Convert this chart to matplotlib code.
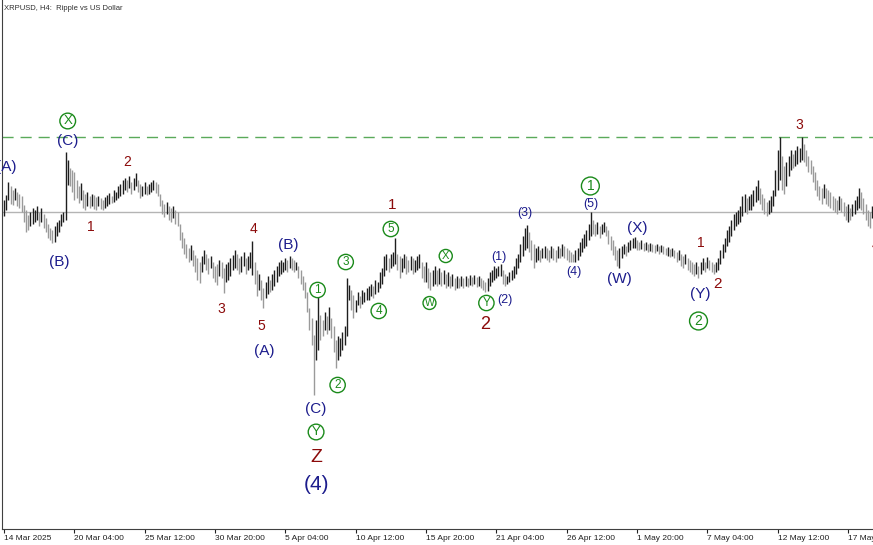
import numpy as np
import matplotlib
matplotlib.use("Agg")
import matplotlib.pyplot as plt

# XRPUSD H4 bars, prices in thousandths of a dollar
hi = [
    2400, 2420, 2472, 2456, 2440, 2448, 2432, 2424, 2416, 2380,
    2360, 2340, 2352, 2368, 2360, 2376, 2352, 2368, 2344, 2328,
    2304, 2288, 2280, 2296, 2312, 2320, 2344, 2352, 2592, 2560,
    2528, 2520, 2512, 2480, 2456, 2468, 2440, 2424, 2432, 2416,
    2424, 2420, 2412, 2416, 2408, 2400, 2412, 2420, 2428, 2416,
    2440, 2432, 2456, 2464, 2480, 2488, 2480, 2496, 2472, 2488,
    2508, 2480, 2464, 2456, 2472, 2456, 2464, 2472, 2480, 2472,
    2464, 2424, 2400, 2384, 2392, 2376, 2368, 2376, 2360, 2352,
    2304, 2272, 2248, 2224, 2208, 2220, 2200, 2180, 2168, 2152,
    2176, 2200, 2184, 2168, 2176, 2152, 2136, 2144, 2160, 2152,
    2128, 2144, 2152, 2168, 2180, 2200, 2184, 2168, 2176, 2192,
    2168, 2176, 2192, 2236, 2152, 2120, 2104, 2080, 2048, 2072,
    2096, 2080, 2104, 2120, 2136, 2152, 2160, 2152, 2168, 2160,
    2176, 2168, 2160, 2152, 2136, 2120, 2096, 2072, 2032, 1968,
    1928, 1860, 1920, 2012, 1940, 1920, 1952, 1936, 1972, 1928,
    1896, 1840, 1856, 1848, 1872, 1896, 2088, 2060, 2040, 2020,
    2000, 2032, 2016, 2040, 2032, 2048, 2056, 2064, 2056, 2080,
    2072, 2112, 2128, 2176, 2184, 2168, 2184, 2192, 2248, 2184,
    2176, 2168, 2184, 2176, 2160, 2176, 2168, 2160, 2176, 2184,
    2152, 2136, 2152, 2128, 2112, 2120, 2136, 2120, 2128, 2112,
    2120, 2104, 2112, 2096, 2104, 2088, 2096, 2088, 2096, 2088,
    2096, 2088, 2100, 2092, 2100, 2092, 2096, 2088, 2080, 2072,
    2088, 2112, 2120, 2136, 2128, 2136, 2144, 2120, 2104, 2096,
    2112, 2120, 2136, 2168, 2184, 2224, 2256, 2288, 2300, 2272,
    2240, 2224, 2208, 2216, 2200, 2208, 2216, 2208, 2200, 2216,
    2208, 2200, 2216, 2208, 2224, 2216, 2208, 2200, 2192, 2184,
    2200, 2208, 2232, 2248, 2264, 2280, 2304, 2352, 2320, 2304,
    2312, 2296, 2304, 2312, 2296, 2280, 2256, 2240, 2216, 2200,
    2208, 2216, 2224, 2216, 2232, 2240, 2248, 2252, 2240, 2232,
    2240, 2228, 2232, 2224, 2228, 2224, 2220, 2224, 2216, 2220,
    2216, 2208, 2212, 2204, 2208, 2200, 2192, 2200, 2184, 2176,
    2184, 2168, 2160, 2152, 2144, 2152, 2136, 2152, 2168, 2152,
    2172, 2160, 2152, 2144, 2152, 2168, 2200, 2224, 2248, 2280,
    2296, 2320, 2344, 2352, 2360, 2376, 2416, 2424, 2408, 2416,
    2424, 2440, 2456, 2480, 2448, 2424, 2408, 2392, 2400, 2416,
    2440, 2520, 2600, 2652, 2576, 2536, 2552, 2576, 2600, 2584,
    2600, 2616, 2608, 2652, 2624, 2600, 2576, 2560, 2536, 2512,
    2480, 2456, 2448, 2464, 2448, 2440, 2432, 2416, 2408, 2400,
    2416, 2408, 2392, 2376, 2384, 2368, 2384, 2400, 2416, 2448,
    2432, 2408, 2384, 2360, 2352, 2376, 2400,
]
lo = [
    2336, 2360, 2400, 2384, 2380, 2400, 2376, 2368, 2352, 2312,
    2272, 2280, 2296, 2304, 2312, 2320, 2296, 2312, 2288, 2272,
    2248, 2240, 2228, 2232, 2256, 2272, 2296, 2312, 2320, 2460,
    2456, 2432, 2400, 2408, 2388, 2400, 2368, 2360, 2376, 2368,
    2376, 2364, 2360, 2376, 2364, 2360, 2368, 2376, 2384, 2388,
    2392, 2400, 2408, 2416, 2424, 2440, 2432, 2448, 2424, 2440,
    2456, 2432, 2408, 2416, 2424, 2420, 2424, 2432, 2440, 2428,
    2416, 2376, 2344, 2332, 2344, 2320, 2312, 2328, 2304, 2296,
    2240, 2208, 2184, 2168, 2152, 2160, 2136, 2112, 2080, 2068,
    2112, 2144, 2120, 2104, 2128, 2088, 2072, 2060, 2096, 2088,
    2028, 2072, 2080, 2096, 2120, 2128, 2120, 2104, 2112, 2136,
    2104, 2120, 2128, 2100, 2064, 2016, 2040, 2000, 1968, 2008,
    2024, 2032, 2040, 2056, 2072, 2096, 2104, 2112, 2120, 2112,
    2128, 2120, 2112, 2120, 2088, 2064, 2040, 2008, 1952, 1880,
    1820, 1620, 1760, 1800, 1840, 1856, 1880, 1864, 1880, 1848,
    1792, 1728, 1760, 1776, 1800, 1820, 1856, 2000, 1960, 1928,
    1952, 1980, 1968, 1984, 1992, 2000, 2000, 2016, 2008, 2024,
    2032, 2048, 2064, 2096, 2120, 2112, 2128, 2136, 2144, 2120,
    2088, 2112, 2128, 2104, 2112, 2120, 2104, 2112, 2120, 2128,
    2088, 2072, 2072, 2048, 2040, 2056, 2064, 2056, 2064, 2056,
    2064, 2048, 2056, 2048, 2056, 2040, 2048, 2048, 2056, 2048,
    2056, 2052, 2060, 2056, 2064, 2052, 2056, 2048, 2040, 2032,
    2036, 2056, 2072, 2080, 2088, 2096, 2096, 2064, 2056, 2064,
    2072, 2080, 2088, 2104, 2128, 2152, 2176, 2200, 2208, 2192,
    2160, 2128, 2152, 2160, 2152, 2168, 2168, 2160, 2152, 2168,
    2160, 2152, 2168, 2168, 2176, 2168, 2160, 2152, 2152, 2152,
    2152, 2160, 2176, 2192, 2208, 2216, 2240, 2256, 2264, 2256,
    2264, 2248, 2264, 2272, 2256, 2224, 2200, 2180, 2160, 2136,
    2128, 2168, 2184, 2176, 2192, 2200, 2208, 2208, 2200, 2200,
    2204, 2196, 2200, 2192, 2196, 2192, 2188, 2196, 2184, 2192,
    2184, 2180, 2176, 2172, 2176, 2168, 2152, 2160, 2136, 2128,
    2144, 2120, 2112, 2104, 2096, 2104, 2088, 2104, 2120, 2112,
    2128, 2120, 2112, 2104, 2112, 2120, 2144, 2168, 2192, 2216,
    2232, 2256, 2280, 2296, 2304, 2312, 2336, 2352, 2344, 2360,
    2360, 2376, 2392, 2400, 2384, 2360, 2344, 2336, 2344, 2352,
    2376, 2416, 2440, 2480, 2440, 2424, 2456, 2496, 2520, 2528,
    2536, 2544, 2552, 2560, 2552, 2536, 2512, 2504, 2472, 2440,
    2416, 2400, 2384, 2408, 2384, 2376, 2368, 2360, 2352, 2344,
    2360, 2352, 2336, 2320, 2312, 2320, 2336, 2344, 2360, 2368,
    2360, 2344, 2320, 2296, 2288, 2328, 2352,
]

tick_labels = ["14 Mar 2025", "20 Mar 04:00", "25 Mar 12:00", "30 Mar 20:00",
               "5 Apr 04:00", "10 Apr 12:00", "15 Apr 20:00", "21 Apr 04:00",
               "26 Apr 12:00", "1 May 20:00", "7 May 04:00", "12 May 12:00",
               "17 May 20:00"]
bars_per_tick = 32

resistance = 2.652   # dashed green level
bid_line = 2.353     # grey price line

# wave labels: (text, bar index, price, colour key, font size, circled)
waves = [
    ("(A)", 1, 2.532, "blue", 11, False),
    ("(B)", 25, 2.152, "blue", 11, False),
    ("X", 29, 2.716, "green", 9.5, True),
    ("(C)", 29, 2.636, "blue", 11, False),
    ("1", 39.5, 2.292, "red", 10, False),
    ("2", 56, 2.552, "red", 10, False),
    ("3", 99, 1.964, "red", 10, False),
    ("4", 113.6, 2.284, "red", 10, False),
    ("5", 117, 1.896, "red", 10, False),
    ("(A)", 118.6, 1.796, "blue", 11, False),
    ("(B)", 129.5, 2.220, "blue", 11, False),
    ("1", 142.7, 2.040, "green", 8.5, True),
    ("2", 151.8, 1.660, "green", 8.5, True),
    ("3", 155.5, 2.152, "green", 8.5, True),
    ("4", 170.5, 1.956, "green", 8.5, True),
    ("5", 176, 2.284, "green", 8.5, True),
    ("1", 176.8, 2.380, "red", 11, False),
    ("(C)", 142, 1.564, "blue", 11, False),
    ("Y", 142, 1.472, "green", 9.5, True),
    ("Z", 142, 1.372, "red", 14, False),
    ("(4)", 142, 1.264, "blue", 15, False),
    ("W", 193.6, 1.988, "green", 7.5, True),
    ("X", 201, 2.176, "green", 8, True),
    ("Y", 219.5, 1.988, "green", 8.5, True),
    ("2", 219, 1.904, "red", 13, False),
    ("(1)", 225, 2.172, "blue", 9, False),
    ("(2)", 227.7, 2.000, "blue", 9, False),
    ("(3)", 237, 2.348, "blue", 9, False),
    ("(4)", 259.5, 2.112, "blue", 9, False),
    ("(5)", 266.8, 2.384, "blue", 9, False),
    ("1", 266.8, 2.456, "green", 10, True),
    ("(W)", 280, 2.084, "blue", 11, False),
    ("(X)", 288, 2.288, "blue", 11, False),
    ("1", 317, 2.228, "red", 10, False),
    ("(Y)", 317, 2.024, "blue", 11, False),
    ("2", 324.5, 2.064, "red", 11, False),
    ("2", 316, 1.916, "green", 10, True),
    ("3", 362, 2.700, "red", 10, False),
    ("4", 396.5, 2.220, "red", 10, False),
]
colours = {"blue": "#1c1c8c", "red": "#8b0a0a", "green": "#1a8a1a"}

high = np.array(hi) / 1000
low = np.array(lo) / 1000
idx = np.arange(len(high))
mid = (high + low) / 2
rising = np.diff(mid, prepend=mid[0]) >= 0
bar_cols = np.where(rising, "#1e1e1e", "#9a9a9a")

fig = plt.figure(figsize=(8.73, 5.45), dpi=100)
ax = fig.add_axes([2 / 873, 16 / 545, 871 / 873, 529 / 545])

ax.axhline(bid_line, color="#b4b4b4", lw=1, zorder=1)
ax.axhline(resistance, color="#5aaa5a", lw=1, dashes=(8, 5), zorder=1)
ax.vlines(idx, low, high, colors=bar_cols, lw=1.0, zorder=2)

for txt, x, y, c, fs, circled in waves:
    box = None
    if circled:
        box = dict(boxstyle="circle,pad=0.14", fc="none", ec=colours[c], lw=1)
    ax.text(x, y, txt, color=colours[c], fontsize=fs, ha="center", va="center",
            family=["Liberation Sans", "DejaVu Sans"], bbox=box, zorder=3)

ax.set_xlim(-0.9, 395.4)
ax.set_ylim(1.084, 3.200)

ticks = np.arange(len(tick_labels)) * bars_per_tick
ax.set_xticks(ticks)
ax.set_xticklabels(tick_labels, ha="left", fontsize=6, color="#202020",
                   family="Liberation Sans")
ax.tick_params(axis="x", length=3, width=0.8, pad=1.5, colors="#202020")
ax.set_yticks([])
for side in ["top", "right"]:
    ax.spines[side].set_visible(False)
ax.spines["left"].set_color("#404040")
ax.spines["bottom"].set_color("#404040")

fig.text(4 / 873, 1 - 8 / 545, "XRPUSD, H4:  Ripple vs US Dollar",
         fontsize=5.5, color="#303030", va="center", family="Liberation Sans")

fig.savefig("out.png", dpi=100)
